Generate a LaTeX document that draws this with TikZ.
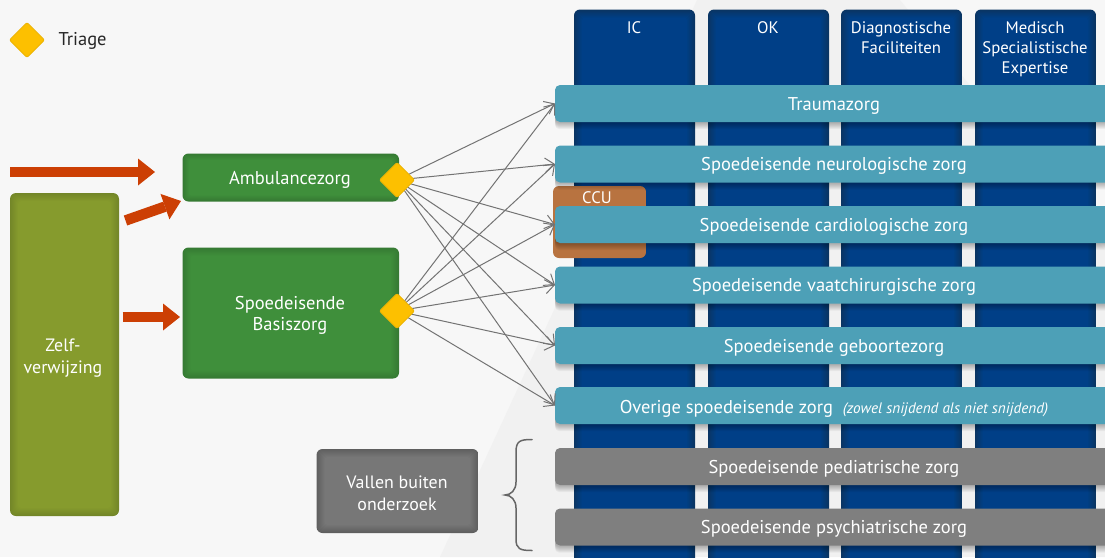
\documentclass[tikz,border=0pt]{standalone}
\usepackage{fontspec}
\setmainfont{PT Sans}
\usetikzlibrary{arrows.meta,calc,backgrounds,shapes.geometric}
\pgfdeclarelayer{bglayer}\pgfdeclarelayer{boxes}\pgfdeclarelayer{shadowlayer}\pgfdeclarelayer{barlayer}\pgfdeclarelayer{linklayer}
\pgfsetlayers{bglayer,boxes,shadowlayer,barlayer,linklayer,main}
\definecolor{bgc}{HTML}{F7F7F7}
\definecolor{bgl}{HTML}{F1F1F1}
\definecolor{navy}{HTML}{003F87}
\definecolor{navyd}{HTML}{0A3563}
\definecolor{teal}{HTML}{4DA0B7}
\definecolor{barg}{HTML}{7F7F7F}
\definecolor{ccuc}{HTML}{B87340}
\definecolor{grn}{HTML}{3F8F3B}
\definecolor{grnd}{HTML}{367A33}
\definecolor{oliv}{HTML}{869B2D}
\definecolor{olivd}{HTML}{738628}
\definecolor{grym}{HTML}{777777}
\definecolor{grymd}{HTML}{5F5F5F}
\definecolor{amber}{HTML}{FDC000}
\definecolor{amberd}{HTML}{EDB404}
\definecolor{orng}{HTML}{CC3F04}
\definecolor{linkc}{HTML}{737373}
\newcommand{\glowfill}[3]{% base, glow, steps
  \foreach \gi in {0,...,#3}{%
    \pgfmathsetmacro{\gm}{100-100*\gi/#3}%
    \fill[color=#2!\gm!#1,rounded corners=3pt]
      ($(path picture bounding box.south west)+(\gi pt,\gi pt)$) rectangle
      ($(path picture bounding box.north east)-(\gi pt,\gi pt)$);
  }}
\tikzset{
  x=1pt,y=-1pt,
  every node/.style={font=\fontsize{18.5}{21}\selectfont,text=white,align=center,inner sep=0pt,outer sep=0pt},
  glowbox/.style n args={5}{rectangle,rounded corners=6pt,minimum width=#1,minimum height=#2,
    path picture={\glowfill{#3}{#4}{#5}}},
  colbox/.style={glowbox={121pt}{560pt}{navy}{navyd}{8},anchor=north west},
  colhead/.style={font=\fontsize{16.7}{20}\selectfont},
  smallbody/.style={font=\fontsize{17.9}{22}\selectfont},
  bar/.style={rectangle,rounded corners=5pt,fill=#1,minimum width=560pt,minimum height=37pt,anchor=west},
  link/.style={draw=linkc,line width=1pt,-{Straight Barb[length=9pt,width=14pt,line width=1pt]}},
  triage/.style={diamond,fill=amber,draw=amberd,line width=1pt,rounded corners=2pt,minimum size=#1},
  bigarrow/.style={draw=orng,line width=10.5pt,-{Triangle[length=17pt,width=27pt,fill=orng,line width=0pt]}},
}
\begin{document}
\begin{tikzpicture}
\useasboundingbox (0,0) rectangle (1105,557);
\begin{pgfonlayer}{bglayer}
\fill[bgc] (0,0) rectangle (1105,557);
\fill[bgl] (440,557) -- (697,0) -- (900,0) -- (1105,250) -- (1105,557) -- cycle;
\end{pgfonlayer}
\begin{pgfonlayer}{boxes}
\node[colbox] (ic) at (574,9.5) {};
\node[colbox] (ok) at (708,9.5) {};
\node[colbox] (df) at (841,9.5) {};
\node[colbox] (ms) at (975,9.5) {};
\node[glowbox={93pt}{72pt}{ccuc}{ccuc}{1},anchor=north west] (ccu) at (553,186) {};
\node[glowbox={216.5pt}{48pt}{grn}{grnd}{6},anchor=north west] (amb) at (182.5,153.5) {};
\node[glowbox={216.5pt}{131pt}{grn}{grnd}{8},anchor=north west] (bas) at (182.5,247.5) {};
\node[glowbox={109pt}{323pt}{oliv}{olivd}{8},anchor=north west] (zelf) at (10,193) {};
\node[glowbox={162pt}{84pt}{grym}{grymd}{8},anchor=north west] (val) at (316.5,449) {};
\end{pgfonlayer}
% column headings and box labels
\node[colhead,anchor=north] (icl) at (634,21.5) {IC};
\node[colhead,anchor=north] (okl) at (768,21.5) {OK};
\node[colhead,anchor=north] (dfl) at (901,21.5) {Diagnostische\\Faciliteiten};
\node[colhead,anchor=north] (msl) at (1035,21.5) {Medisch\\Specialistische\\Expertise};
\node[colhead] (ccul) at (597,198) {CCU};
\node (ambl) at (290,179.5) {Ambulancezorg};
\node (basl) at (290,315.5) {Spoedeisende\\Basiszorg};
\node[smallbody] (zelfl) at (63,358) {Zelf-\\verwijzing};
\node[smallbody] (vall) at (397,493.5) {Vallen buiten\\onderzoek};
\begin{pgfonlayer}{barlayer}
\node[bar=teal] (b1) at (555,103.5) {};
\node[bar=teal] (b2) at (555,164) {};
\node[bar=teal] (b3) at (555,224.5) {};
\node[bar=teal] (b4) at (555,285) {};
\node[bar=teal] (b5) at (555,345.5) {};
\node[bar=teal] (b6) at (555,405.5) {};
\node[bar=barg] (b7) at (555,466.5) {};
\node[bar=barg] (b8) at (555,527) {};
\end{pgfonlayer}
\begin{pgfonlayer}{shadowlayer}
\foreach \n in {b1,b2,b3,b4,b5,b6,b7,b8}{
  \foreach \i in {1,...,7}{
    \fill[black,opacity=.045,rounded corners=4pt] ($(\n.north west)+(0,2)$) rectangle ($(\n.south east)+(0,\i)$);
  }
}
\end{pgfonlayer}
\node (t1) at (834,105.5) {Traumazorg};
\node (t2) at (834,166) {Spoedeisende neurologische zorg};
\node (t3) at (834,226.5) {Spoedeisende cardiologische zorg};
\node (t4) at (834,287) {Spoedeisende vaatchirurgische zorg};
\node (t5) at (834,347.5) {Spoedeisende geboortezorg};
\node (t6) at (834,408.5) {Overige spoedeisende zorg\ \ {\itshape\fontsize{15.2}{17}\selectfont (zowel snijdend als niet snijdend)}};
\node (t7) at (834,468.5) {Spoedeisende pediatrische zorg};
\node (t8) at (834,529) {Spoedeisende psychiatrische zorg};
% triage
\node[triage=35pt] (lg) at (27,40) {};
\node[anchor=west,text=black!85] (lgl) at (58.5,40.5) {Triage};
\node[triage=35pt] (d1) at (397,180) {};
\node[triage=35pt] (d2) at (397,311) {};
\begin{pgfonlayer}{linklayer}
\foreach \b in {b1,b2,b3,b4,b5,b6}{
  \draw[link] (d1.center) -- (\b.west);
  \draw[link] (d2.center) -- (\b.west);
}
\end{pgfonlayer}
% orange arrows
\coordinate (a1s) at (10,172);
\coordinate (a1e) at (155,172);
\coordinate (a2s) at (125.5,220.5);
\coordinate (a2e) at (181,201);
\coordinate (a3s) at (122.5,317);
\coordinate (a3e) at (180,317);
\draw[bigarrow] (a1s) -- (a1e);
\draw[bigarrow] (a2s) -- (a2e);
\draw[bigarrow] (a3s) -- (a3e);
% brace
\coordinate (bt) at (532,439.5);
\coordinate (bm) at (505,495);
\coordinate (bb) at (532,550.5);
\draw[draw=black!60,line width=1.5pt,line cap=round]
  (bt) .. controls (520,439.5) and (516,441) .. (516,452)
  -- (516,482) .. controls (516,490) and (511,495) .. (bm)
  .. controls (511,495) and (516,500) .. (516,508)
  -- (516,539) .. controls (516,549) and (520,550.5) .. (bb);
\end{tikzpicture}
\end{document}
